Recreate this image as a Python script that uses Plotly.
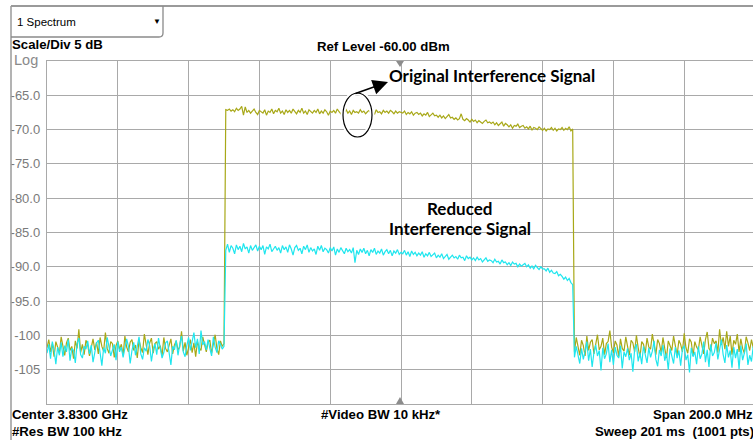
import numpy as np
import plotly.graph_objects as go

# ---------------- data (dBm), sweep 3.73 -> 3.93 GHz, 401 points ----------------
CENTER_GHZ = 3.83
SPAN_GHZ = 0.2

orig_noise_left = [
    -101.8, -100.6, -102.4, -101.2, -103.1, -100.9, -101.7, -102.6, -100.2, -101.5,
    -102.9, -101.1, -100.4, -102.2, -101.6, -103.4, -100.8, -101.9, -99.1, -102.5,
    -101.3, -102.8, -100.7, -101.4, -103.0, -101.8, -100.5, -102.1, -101.0, -102.7,
    -100.3, -101.6, -102.3, -99.6, -101.9, -102.6, -100.9, -101.2, -103.2, -101.5,
    -100.8, -102.0, -101.3, -102.9, -100.1, -101.7, -102.4, -101.0, -100.6, -102.2,
    -101.4, -103.3, -100.7, -101.8, -102.5, -99.8, -101.6, -102.8, -101.1, -100.4,
    -102.6, -101.2, -100.9, -102.0, -101.5, -103.0, -100.3, -101.9, -102.4, -101.3,
    -100.5, -102.7, -101.4, -100.8, -102.1, -101.7, -99.4, -102.3, -101.0, -102.9,
    -101.6, -100.6, -102.5, -101.1, -103.1, -100.9, -101.8, -102.2, -100.2, -101.5,
    -102.4, -101.0, -100.7, -102.6, -101.3, -99.9, -101.9, -102.8, -100.8, -101.6,
    -101.2,
]
orig_band = [
    -67.1, -67.2, -67.0, -67.3, -67.1, -67.4, -66.9, -67.2, -67.0, -66.6,
    -67.9, -66.7, -67.5, -67.2, -67.6, -67.3, -67.0, -67.5, -67.8, -67.2,
    -67.4, -67.6, -67.1, -67.9, -67.3, -67.5, -67.0, -67.7, -67.2, -67.4,
    -66.9, -67.6, -67.3, -67.8, -67.1, -67.5, -67.2, -67.6, -67.0, -67.4,
    -67.7, -67.2, -67.5, -66.9, -67.6, -67.3, -67.8, -67.1, -67.4, -67.6,
    -67.2, -67.5, -67.0, -67.7, -67.3, -67.6, -67.1, -67.4, -67.9, -67.3,
    -67.5, -67.2, -67.6, -67.0, -67.4, -67.7, -67.3, -67.5, -67.1, -67.6,
    -67.3, -67.8, -67.2, -67.5, -67.4, -67.6, -67.1, -67.5, -67.3, -67.7,
    -67.4, -67.2, -67.6, -67.3, -67.8, -67.1, -67.5, -67.4, -67.7, -67.2,
    -67.5, -67.3, -67.6, -67.2, -67.4, -67.7, -67.3, -67.6, -67.4, -67.5,
    -67.6, -67.3, -67.8, -67.5, -67.7, -67.4, -67.9, -67.6, -67.5, -67.8,
    -67.6, -68.0, -67.7, -67.9, -67.5, -68.1, -67.8, -67.6, -68.0, -67.9,
    -68.2, -67.9, -68.3, -68.0, -68.4, -68.1, -67.8, -68.3, -68.2, -68.5,
    -68.3, -68.6, -68.4, -67.7, -68.5, -68.7, -68.4, -68.6, -68.9, -68.5,
    -68.8, -68.6, -69.0, -68.7, -68.9, -69.1, -68.8, -68.6, -69.0, -68.9,
    -69.1, -68.9, -69.3, -69.0, -69.4, -69.2, -68.9, -69.5, -69.1, -69.3,
    -69.6, -69.3, -69.8, -69.4, -69.5, -69.2, -69.7, -69.5, -69.4, -69.8,
    -69.6, -69.9, -69.5, -70.1, -69.7, -69.8, -70.0, -69.6, -69.9, -70.1,
    -69.8, -70.2, -69.9, -70.0, -69.7, -70.1, -69.8, -70.2, -69.9, -70.0,
    -69.7, -70.1, -69.8, -70.0, -69.6, -70.2, -69.9,
]
orig_noise_right = [
    -102.4, -100.3, -101.8, -102.9, -100.7, -101.5, -103.0, -100.1, -102.2, -101.0,
    -100.6, -102.7, -101.3, -99.9, -102.1, -101.6, -100.4, -102.8, -101.2, -100.9,
    -99.3, -101.7, -102.5, -100.8, -101.4, -103.1, -100.5, -101.9, -102.3, -100.2,
    -101.6, -102.9, -100.7, -101.1, -102.4, -100.0, -101.8, -103.2, -100.9, -101.3,
    -102.6, -100.4, -101.7, -102.0, -99.8, -101.5, -102.8, -100.6, -101.2, -102.5,
    -100.3, -101.9, -103.3, -100.8, -101.4, -102.2, -100.1, -101.6, -102.9, -100.7,
    -101.3, -102.4, -99.7, -101.8, -102.6, -100.5, -101.0, -103.0, -100.9, -101.7,
    -102.1, -100.2, -101.5, -102.7, -100.6, -99.5, -101.9, -102.3, -100.4, -101.2,
    -100.8, -102.5, -99.1, -101.4, -100.3, -102.0, -99.4, -101.6, -100.1, -102.8,
    -100.7, -101.3, -99.8, -102.4, -100.5, -101.9, -102.6, -100.2, -101.1, -102.2,
    -100.6, -101.8, -100.9,
]

red_noise_left = [
    -102.6, -101.3, -103.4, -100.9, -102.1, -104.2, -101.7, -102.9, -101.0, -103.1,
    -101.5, -102.4, -100.6, -103.7, -101.9, -102.2, -104.0, -101.2, -100.4, -102.8,
    -103.3, -101.6, -102.0, -100.8, -102.7, -101.4, -103.9, -102.3, -101.1, -100.7,
    -102.5, -104.4, -101.8, -102.6, -100.3, -101.9, -103.0, -102.1, -101.3, -103.6,
    -100.9, -102.4, -101.7, -103.2, -102.0, -100.5, -101.6, -104.1, -102.2, -101.0,
    -102.9, -101.4, -100.2, -102.7, -103.5, -101.8, -102.3, -100.6, -101.5, -103.8,
    -102.0, -101.2, -102.8, -100.4, -101.9, -103.3, -102.5, -101.1, -100.8, -102.6,
    -104.3, -101.6, -102.1, -100.7, -102.9, -101.3, -100.1, -102.4, -103.1, -101.5,
    -100.3, -102.2, -101.0, -99.6, -101.8, -100.5, -102.7, -99.3, -101.4, -100.9,
    -102.1, -100.6, -101.9, -103.0, -100.2, -101.7, -102.5, -100.8, -101.3, -102.0,
    -101.6,
]
red_band = [
    -87.6, -86.7, -87.9, -86.9, -87.3, -88.1, -86.8, -87.5, -87.0, -87.8,
    -86.6, -87.4, -87.1, -88.0, -86.9, -87.6, -87.2, -86.8, -87.7, -87.0,
    -87.5, -86.9, -88.2, -87.1, -87.4, -86.7, -87.8, -87.3, -87.0, -87.6,
    -87.2, -88.0, -86.9, -87.5, -87.1, -87.9, -86.8, -87.4, -88.3, -87.2,
    -86.9, -87.6, -87.3, -88.1, -87.0, -87.5, -86.8, -87.9, -87.2, -87.7,
    -87.4, -88.2, -87.0, -87.6, -86.9, -87.8, -87.3, -87.5, -88.0, -87.2,
    -87.7, -87.1, -88.3, -87.4, -87.9, -87.2, -87.6, -88.1, -87.3, -87.8,
    -87.5, -88.0, -87.2, -89.4, -87.6, -88.2, -87.4, -87.9, -87.3, -88.1,
    -87.6, -88.4, -87.5, -87.9, -87.3, -88.2, -87.7, -88.0, -87.4, -88.3,
    -87.8, -87.5, -88.1, -87.6, -88.4, -87.7, -88.0, -87.5, -88.2, -87.9,
    -88.1, -87.6, -88.3, -87.8, -88.5, -87.7, -88.2, -87.9, -88.4, -88.0,
    -88.3, -87.8, -88.6, -88.1, -88.4, -87.9, -88.5, -88.2, -88.0, -88.7,
    -88.3, -88.6, -88.1, -88.8, -88.4, -88.2, -88.9, -88.5, -88.3, -88.7,
    -88.5, -88.9, -88.3, -88.7, -88.6, -89.1, -88.4, -88.8, -88.6, -89.0,
    -88.7, -89.1, -88.6, -89.0, -88.8, -89.3, -88.9, -88.7, -89.2, -89.0,
    -89.1, -89.4, -88.9, -89.3, -89.2, -89.6, -89.0, -89.4, -89.3, -89.7,
    -89.4, -89.8, -89.3, -89.6, -89.5, -90.0, -89.6, -89.9, -89.7, -89.5,
    -90.0, -89.7, -90.2, -89.9, -90.3, -89.8, -90.1, -90.4, -90.0, -90.3,
    -90.3, -90.6, -90.2, -90.8, -90.5, -90.9, -91.0, -90.7, -91.3, -91.1,
    -91.4, -91.8, -91.5, -92.0, -91.7, -92.3, -92.6,
]
red_noise_right = [
    -103.2, -101.6, -102.8, -104.1, -101.9, -103.5, -102.3, -100.9, -103.7, -102.0,
    -104.6, -102.5, -101.4, -103.0, -102.2, -105.1, -101.8, -103.4, -102.7, -101.2,
    -103.9, -102.1, -104.3, -101.7, -102.9, -103.3, -101.5, -104.8, -102.4, -103.1,
    -101.9, -103.6, -102.6, -105.3, -102.0, -101.3, -103.8, -102.5, -104.2, -101.6,
    -102.8, -104.0, -101.8, -103.2, -102.3, -100.8, -103.5, -104.5, -102.1, -103.0,
    -101.4, -103.7, -102.6, -105.0, -101.9, -102.9, -104.1, -101.7, -103.3, -102.2,
    -104.4, -102.0, -101.5, -103.6, -102.8, -105.4, -101.8, -103.1, -102.4, -104.2,
    -101.6, -103.4, -102.7, -100.9, -103.9, -102.1, -104.6, -101.3, -103.0, -102.5,
    -101.1, -103.5, -101.9, -100.6, -102.8, -104.0, -101.4, -103.2, -102.2, -104.7,
    -101.7, -103.3, -102.0, -104.9, -101.5, -103.6, -102.6, -101.2, -104.3, -102.9,
    -103.8, -101.6, -102.7,
]

y_tick_vals = [-65, -70, -75, -80, -85, -90, -95, -100, -105]
y_tick_text = ["-65.0", "-70.0", "-75.0", "-80.0", "-85.0", "-90.0", "-95.0", "-100", "-105"]
x_grid_vals = [3.75, 3.77, 3.79, 3.81, 3.83, 3.85, 3.87, 3.89, 3.91]

original = orig_noise_left + orig_band + orig_noise_right
reduced = red_noise_left + red_band + red_noise_right
freq = np.linspace(CENTER_GHZ - SPAN_GHZ / 2, CENTER_GHZ + SPAN_GHZ / 2, len(original))
freq_r = np.linspace(CENTER_GHZ - SPAN_GHZ / 2, CENTER_GHZ + SPAN_GHZ / 2, len(reduced))

# ---------------- figure ----------------
W, H = 753, 440
L, R, T, B = 47, 753, 61, 404
PW, PH = R - L, B - T


def fx(px):
    return (px - L) / PW


def fy(py):
    return (B - py) / PH


OLIVE = "#a8a818"
CYAN = "#1fe6ee"
GRID = "#a9a9a9"
ARIAL = "Liberation Sans, Arial, sans-serif"
CALIBRI = "Lato, Open Sans, sans-serif"

fig = go.Figure()
fig.add_trace(go.Scatter(x=freq, y=original, mode="lines",
                         line=dict(color=OLIVE, width=1.2), showlegend=False, hoverinfo="skip"))
fig.add_trace(go.Scatter(x=freq_r, y=reduced, mode="lines",
                         line=dict(color=CYAN, width=1.2), showlegend=False, hoverinfo="skip"))

x0 = CENTER_GHZ - SPAN_GHZ / 2
x1 = x0 + SPAN_GHZ * PW / 708.0

fig.update_layout(
    width=W, height=H,
    margin=dict(l=L, r=W - R, t=T, b=H - B, pad=0),
    paper_bgcolor="white", plot_bgcolor="white",
    xaxis=dict(range=[x0, x1], tickvals=x_grid_vals, showticklabels=False, ticks="",
               showgrid=True, gridcolor=GRID, gridwidth=1.4, zeroline=False,
               showline=True, linecolor=GRID, linewidth=1.4, mirror=True),
    yaxis=dict(range=[-110, -60], tickvals=y_tick_vals, ticktext=y_tick_text,
               showgrid=True, gridcolor=GRID, gridwidth=1.4, zeroline=False,
               showline=True, linecolor=GRID, linewidth=1.4, mirror=True,
               ticks="", ticklabelstandoff=3,
               tickfont=dict(family=ARIAL, size=13, color="#7a7a7a")),
    font=dict(family=ARIAL, size=12, color="black"),
)

shapes = []
# outer frame
shapes.append(dict(type="line", xref="paper", yref="paper", x0=fx(11), x1=fx(753), y0=fy(6), y1=fy(6),
                   line=dict(color="#9a9a9a", width=2), layer="above"))
shapes.append(dict(type="line", xref="paper", yref="paper", x0=fx(11), x1=fx(11), y0=fy(6), y1=fy(440),
                   line=dict(color="#9a9a9a", width=1.5), layer="above"))
# dropdown box (right edge with rounded corner + bottom)
shapes.append(dict(type="path", xref="paper", yref="paper",
                   path=f"M {fx(163)},{fy(6)} L {fx(163)},{fy(33)} Q {fx(163)},{fy(37)} {fx(159)},{fy(37)} L {fx(11)},{fy(37)}",
                   line=dict(color="#8a8a8a", width=1.3), layer="above"))
# center markers (triangles)
shapes.append(dict(type="path", xref="paper", yref="paper",
                   path=f"M {fx(396)},{fy(61)} L {fx(404)},{fy(61)} L {fx(400)},{fy(67)} Z",
                   fillcolor="#8c8c8c", line=dict(width=0), layer="above"))
shapes.append(dict(type="path", xref="paper", yref="paper",
                   path=f"M {fx(396)},{fy(404)} L {fx(404)},{fy(404)} L {fx(400)},{fy(397)} Z",
                   fillcolor="#8c8c8c", line=dict(width=0), layer="above"))
# ellipse around trace
shapes.append(dict(type="circle", xref="paper", yref="paper",
                   x0=fx(343), x1=fx(372), y0=fy(137), y1=fy(93),
                   line=dict(color="white", width=5), layer="above"))
shapes.append(dict(type="circle", xref="paper", yref="paper",
                   x0=fx(343), x1=fx(372), y0=fy(137), y1=fy(93),
                   line=dict(color="black", width=1.2), layer="above"))
fig.update_layout(shapes=shapes)

ann = []


def txt(text, px, py, xanchor="left", size=13.2, bold=False, color="black", family=ARIAL):
    ann.append(dict(text=f"<b>{text}</b>" if bold else text, xref="paper", yref="paper",
                    x=fx(px), y=fy(py), xanchor=xanchor, yanchor="middle", showarrow=False,
                    font=dict(family=family, size=size, color=color)))


txt("1 Spectrum", 15, 22, size=11.5)
txt("▼", 157, 22, xanchor="center", size=8)
txt("Scale/Div 5 dB", 10, 45, bold=True)
txt("Log", 12, 60, size=14.5, color="#8a8a8a")
txt("Ref Level -60.00 dBm", 383, 46, xanchor="center", bold=True)
txt("Center 3.8300 GHz", 10, 414, bold=True)
txt("#Res BW 100 kHz", 10, 431, bold=True)
txt("#Video BW 10 kHz*", 381, 414, xanchor="center", bold=True)
txt("Span 200.0 MHz", 755, 414, xanchor="right", bold=True)
txt("Sweep 201 ms  (1001 pts)", 756, 431, xanchor="right", bold=True)
txt("Original Interference Signal", 387, 75, size=17, bold=True, family=CALIBRI)
txt("Reduced", 460, 208, xanchor="center", size=17, bold=True, family=CALIBRI)
txt("Interference Signal", 460, 228, xanchor="center", size=17, bold=True, family=CALIBRI)

# arrow from ellipse to label
ann.append(dict(text="", xref="paper", yref="paper", x=fx(388), y=fy(82),
                ax=-34, ay=12, axref="pixel", ayref="pixel", showarrow=True,
                arrowhead=2, arrowsize=1.9, arrowwidth=1.6, arrowcolor="black"))
fig.update_layout(annotations=ann)

fig.write_html("out.html", config={"displayModeBar": False},
               post_script="document.body.style.margin='0px';document.body.style.overflow='hidden';")
